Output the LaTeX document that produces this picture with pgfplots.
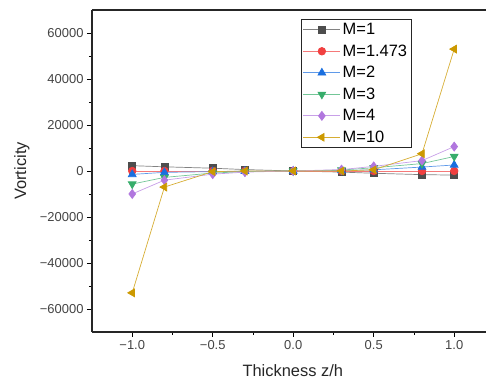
\documentclass[border=0pt]{standalone}
\usepackage{fontspec}
\setmainfont{Liberation Sans}
\usepackage{pgfplots}
\pgfplotsset{compat=1.18}
\definecolor{c1}{HTML}{4D4D4D}
\definecolor{c2}{HTML}{F14040}
\definecolor{c3}{HTML}{1A6FDF}
\definecolor{c4}{HTML}{37AD6B}
\definecolor{c5}{HTML}{B177DE}
\definecolor{c6}{HTML}{CC9900}
\definecolor{tickgray}{HTML}{444444}
\begin{document}
\begin{tikzpicture}
\begin{axis}[
  scale only axis,
  width=394.5bp, height=322bp,
  xmin=-1.25, xmax=1.2,
  ymin=-70000, ymax=70000,
  scaled y ticks=false, scaled x ticks=false,
  axis x line=box, axis y line=left,
  axis line style={-, line width=1.2pt, color=black!85},
  xtick={-1,-0.5,0,0.5,1},
  xticklabels={−1.0,−0.5,0.0,0.5,1.0},
  ytick={-60000,-40000,-20000,0,20000,40000,60000},
  yticklabels={−60000,−40000,−20000,0,20000,40000,60000},
  minor x tick num=1, minor y tick num=1,
  tick align=outside,
  xtick pos=bottom, ytick pos=left,
  major tick length=5bp, minor tick length=3bp,
  tick style={black, line width=0.8pt},
  tick label style={font=\fontsize{13}{15}\selectfont, text=tickgray},
  xlabel={Thickness z/h}, ylabel={Vorticity},
  every axis x label/.style={at={(rel axis cs:0.509,0)}, yshift=-39bp, anchor=center, font=\fontsize{16.5}{18}\selectfont, text=black!85},
  every axis y label/.style={at={(rel axis cs:0,0.5)}, xshift=-70bp, rotate=90, anchor=center, font=\fontsize{16.5}{18}\selectfont, text=black!85},
  legend style={at={(rel axis cs:0.529,0.972)}, anchor=north west, draw=black!85, line width=0.8pt, font=\fontsize{16.5}{18}\selectfont, row sep=4.6bp, inner sep=2bp, cells={anchor=west}},
  legend image code/.code={\draw[#1] (0bp,0bp) -- (37bp,0bp); \draw[#1, only marks] plot coordinates {(18.5bp,0bp)};},
  every axis plot/.append style={line width=0.7pt, mark size=4bp},
  clip=false,
]
\addplot[color=c1!70, mark=square*, mark size=3.5bp, mark options={fill=c1, draw=c1}] coordinates {(-1,2300)(-0.8,1800)(-0.5,1200)(-0.3,600)(0,0)(0.3,-500)(0.5,-1000)(0.8,-1600)(1,-1800)};
\addlegendentry{M=1}
\addplot[color=c2!70, mark=*, mark size=3.8bp, mark options={fill=c2, draw=c2}] coordinates {(-1,0)(-0.8,0)(-0.5,0)(-0.3,0)(0,0)(0.3,0)(0.5,0)(0.8,0)(1,0)};
\addlegendentry{M=1.473}
\addplot[color=c3!70, mark=triangle*, mark size=4.5bp, mark options={fill=c3, draw=c3}] coordinates {(-1,-1500)(-0.8,-600)(-0.5,-300)(-0.3,-100)(0,0)(0.3,200)(0.5,500)(0.8,1700)(1,2600)};
\addlegendentry{M=2}
\addplot[color=c4!70, mark=triangle*, mark size=4.5bp, mark options={fill=c4, draw=c4, rotate=180}] coordinates {(-1,-5700)(-0.8,-2800)(-0.5,-900)(-0.3,-300)(0,0)(0.3,400)(0.5,1400)(0.8,3200)(1,6300)};
\addlegendentry{M=3}
\addplot[color=c5!70, mark=diamond*, mark size=4.5bp, mark options={fill=c5, draw=c5}] coordinates {(-1,-10000)(-0.8,-4000)(-0.5,-1400)(-0.3,-500)(0,0)(0.3,600)(0.5,2000)(0.8,4500)(1,10600)};
\addlegendentry{M=4}
\addplot[color=c6!80, mark=triangle*, mark size=4.5bp, mark options={fill=c6, draw=c6, rotate=90}] coordinates {(-1,-53000)(-0.8,-7000)(-0.5,-300)(-0.3,0)(0,0)(0.3,0)(0.5,500)(0.8,7500)(1,53000)};
\addlegendentry{M=10}
\path (rel axis cs:0,0) ++(-92bp,-51bp);
\path (rel axis cs:1,1) ++(0bp,10bp);
\end{axis}
\end{tikzpicture}
\end{document}
